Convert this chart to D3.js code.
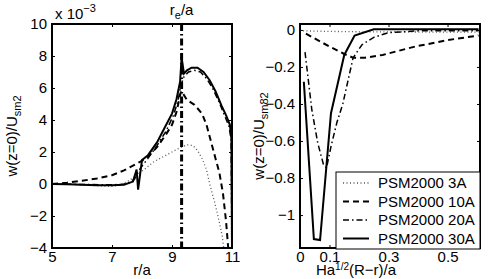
<!DOCTYPE html>
<meta charset="utf-8">
<style>
body { margin: 0; background: #fff; }
svg { font-family: "Liberation Sans", Arial, sans-serif; }
.axis path { display: none; }
.axis line { stroke: #000; stroke-width: 1; }
.axis text { font-size: 15px; fill: #000; }
path.curve { fill: none; stroke: #000; }
</style>
<div id="chart"></div>
<script src="https://d3js.org/d3.v7.min.js"></script>
<script>

// ---- left panel data: r/a vs w(z=0)/U_sm2, values in units of 10^-3
var dot3L = [[5,0],[5.5,0],[6,-0.05],[6.5,-0.1],[7,-0.15],[7.3,-0.05],[7.6,0.25],[7.9,0.65],[8.4,1.4],[8.9,1.9],
  [9.2,2.2],[9.5,2.45],[9.7,2.4],[9.85,2.1],[10.0,1.6],[10.15,0.9],[10.27,-0.1],[10.43,-1.2],[10.58,-2.4],
  [10.68,-3.3],[10.73,-4.1],[10.76,-4.6]];
var dash10L = [[5,0],[5.5,0.08],[6,0.2],[6.5,0.35],[7,0.55],[7.4,0.85],[7.7,1.15],[7.95,1.4],[8.2,1.7],[8.5,2.3],
  [8.8,3.1],[9.0,3.7],[9.15,4.5],[9.3,5.8],[9.35,5.7],[9.5,5.25],[9.75,4.95],[10.0,4.4],[10.15,3.7],[10.3,2.65],
  [10.45,1.6],[10.58,0.7],[10.7,-0.6],[10.8,-2.3],[10.87,-3.9],[10.9,-4.6]];
var dashdot20L = [[5,0],[6,-0.03],[7,-0.05],[7.5,0.0],[7.75,0.3],[7.95,1.0],[8.2,1.6],[8.5,2.4],[8.8,3.3],[9.05,4.3],
  [9.2,5.2],[9.3,6.2],[9.4,6.7],[9.55,7.0],[9.75,7.1],[9.95,7.0],[10.15,6.6],[10.35,6.0],[10.55,5.2],[10.75,4.3],
  [10.9,3.6],[10.97,2.8],[11.0,-4]];
var solid30L = [[5,0],[5.5,-0.02],[6,-0.05],[6.5,-0.08],[7,-0.08],[7.4,-0.05],[7.7,0.15],[7.82,0.9],[7.87,-0.35],
  [8.0,1.5],[8.2,1.8],[8.5,2.6],[8.75,3.5],[9.0,4.4],[9.15,5.3],[9.27,6.4],[9.32,7.9],[9.4,6.9],[9.5,7.1],
  [9.65,7.27],[9.85,7.27],[10.05,7.0],[10.25,6.5],[10.45,5.8],[10.65,4.9],[10.8,4.3],[10.93,3.7],[10.98,2.8],[11.0,-4]];
var rE = 9.32;
var leftXTicks = [5, 7, 9, 11];
var leftYTicks = [-4, -2, 0, 2, 4, 6, 8, 10];

// ---- right panel data: Ha^(1/2)(R-r)/a vs w(z=0)/U_sm82
var dot3R = [[0.01,-0.005],[0.1,-0.008],[0.2,-0.01],[0.3,-0.01],[0.45,-0.012],[0.605,-0.012]];
var dash10R = [[0.02,-0.02],[0.06,-0.055],[0.1,-0.09],[0.15,-0.13],[0.18,-0.15],[0.22,-0.15],[0.28,-0.135],
  [0.39,-0.09],[0.5,-0.055],[0.605,-0.03]];
var dashdot20R = [[0.017,-0.12],[0.04,-0.43],[0.06,-0.61],[0.08,-0.73],[0.09,-0.745],[0.105,-0.63],[0.125,-0.5],
  [0.145,-0.4],[0.18,-0.15],[0.21,-0.08],[0.25,-0.04],[0.3,-0.015],[0.4,-0.005],[0.605,-0.005]];
var solid30R = [[0.013,-0.28],[0.047,-1.13],[0.068,-1.135],[0.105,-0.45],[0.15,-0.135],[0.185,-0.03],
  [0.25,0.003],[0.605,0.003]];
var rightXTicks = [0, 0.1, 0.3, 0.5];
var rightYTicks = [-1, -0.8, -0.6, -0.4, -0.2, 0];

var legendLabels = ["PSM2000 3A", "PSM2000 10A", "PSM2000 20A", "PSM2000 30A"];

// line styles, in the order of the legend
var styles = [
  { dash: "1,2.5", width: 1.3, color: "#555" },
  { dash: "6,4", width: 2, color: "#000" },
  { dash: "6,3,1.5,3", width: 1.5, color: "#000" },
  { dash: null, width: 2, color: "#000" }
];

var width = 493, height = 279;
var svg = d3.select("#chart").append("svg")
  .attr("width", width)
  .attr("height", height);

var fmt = function(d) { return String(d).replace("-", "\u2212"); };

function panel(id, box, xDom, yDom, xTicks, yTicks, series) {
  var x = d3.scaleLinear().domain(xDom).range([box.x0, box.x1]);
  var y = d3.scaleLinear().domain(yDom).range([box.y1, box.y0]);
  var g = svg.append("g");

  g.append("clipPath").attr("id", id)
    .append("rect")
    .attr("x", box.x0).attr("y", box.y0)
    .attr("width", box.x1 - box.x0).attr("height", box.y1 - box.y0);

  // ticks point inward on all four sides, labels only left and bottom
  g.append("g").attr("class", "axis")
    .attr("transform", "translate(" + box.x0 + ",0)")
    .call(d3.axisLeft(y).tickValues(yTicks).tickSizeInner(-3).tickSizeOuter(0).tickPadding(5).tickFormat(fmt));
  g.append("g").attr("class", "axis")
    .attr("transform", "translate(" + box.x1 + ",0)")
    .call(d3.axisRight(y).tickValues(yTicks).tickSizeInner(-3).tickSizeOuter(0).tickFormat(""));
  g.append("g").attr("class", "axis")
    .attr("transform", "translate(0," + box.y1 + ")")
    .call(d3.axisBottom(x).tickValues(xTicks).tickSizeInner(-3).tickSizeOuter(0).tickPadding(3).tickFormat(fmt));
  g.append("g").attr("class", "axis")
    .attr("transform", "translate(0," + box.y0 + ")")
    .call(d3.axisTop(x).tickValues(xTicks).tickSizeInner(-3).tickSizeOuter(0).tickFormat(""));

  var line = d3.line()
    .x(function(d) { return x(d[0]); })
    .y(function(d) { return y(d[1]); });

  g.selectAll("path.curve")
    .data(series)
    .enter().append("path")
    .attr("class", "curve")
    .attr("clip-path", "url(#" + id + ")")
    .attr("d", line)
    .style("stroke", function(d, i) { return styles[i].color; })
    .style("stroke-width", function(d, i) { return styles[i].width; })
    .style("stroke-dasharray", function(d, i) { return styles[i].dash; });

  g.append("rect")
    .attr("x", box.x0).attr("y", box.y0)
    .attr("width", box.x1 - box.x0).attr("height", box.y1 - box.y0)
    .attr("fill", "none")
    .attr("stroke", "#000")
    .attr("stroke-width", 2);

  return { g: g, x: x, y: y };
}

// ---- left panel
var L = panel("clipL", { x0: 52, x1: 232, y0: 24, y1: 248 }, [5, 11], [-4, 10],
  leftXTicks, leftYTicks, [dot3L, dash10L, dashdot20L, solid30L]);

L.g.append("line")
  .attr("x1", L.x(rE)).attr("x2", L.x(rE))
  .attr("y1", L.y(10)).attr("y2", L.y(-4))
  .attr("stroke", "#000")
  .attr("stroke-width", 3)
  .attr("stroke-dasharray", "7,3,1.5,3");

var reLab = L.g.append("text")
  .attr("x", L.x(rE))
  .attr("y", 15)
  .attr("text-anchor", "middle")
  .style("font-size", "15px");
reLab.append("tspan").text("r");
reLab.append("tspan").attr("dy", 4).style("font-size", "11px").text("e");
reLab.append("tspan").attr("dy", -4).text("/a");

var expLab = L.g.append("text")
  .attr("x", 55)
  .attr("y", 19)
  .style("font-size", "15px");
expLab.append("tspan").text("x 10");
expLab.append("tspan").attr("dy", -7).style("font-size", "11px").text("\u22123");

L.g.append("text")
  .attr("x", 142).attr("y", 275)
  .attr("text-anchor", "middle")
  .style("font-size", "15px")
  .text("r/a");

var yLabL = L.g.append("text")
  .attr("transform", "translate(17,136) rotate(-90)")
  .attr("text-anchor", "middle")
  .style("font-size", "15px");
yLabL.append("tspan").text("w(z=0)/U");
yLabL.append("tspan").attr("dy", 4).style("font-size", "11px").text("sm2");

// ---- right panel
var R = panel("clipR", { x0: 300, x1: 480, y0: 24, y1: 248 }, [0, 0.61], [-1.178, 0.032],
  rightXTicks, rightYTicks, [dot3R, dash10R, dashdot20R, solid30R]);

var xLabR = R.g.append("text")
  .attr("x", 356).attr("y", 275)
  .attr("text-anchor", "middle")
  .style("font-size", "15px");
xLabR.append("tspan").text("Ha");
xLabR.append("tspan").attr("dy", -5).style("font-size", "10px").text("1/2");
xLabR.append("tspan").attr("dy", 5).text("(R\u2212r)/a");

var yLabR = R.g.append("text")
  .attr("transform", "translate(264,136) rotate(-90)")
  .attr("text-anchor", "middle")
  .style("font-size", "15px");
yLabR.append("tspan").text("w(z=0)/U");
yLabR.append("tspan").attr("dy", 4).style("font-size", "11px").text("sm82");

// legend
var legend = R.g.append("g")
  .attr("transform", "translate(336,172)");
legend.append("rect")
  .attr("width", 144).attr("height", 77)
  .attr("fill", "#fff")
  .attr("stroke", "#000")
  .attr("stroke-width", 1);
var item = legend.selectAll("g.item")
  .data(legendLabels)
  .enter().append("g")
  .attr("class", "item")
  .attr("transform", function(d, i) { return "translate(0," + (11 + i * 18.5) + ")"; });
item.append("line")
  .attr("x1", 7).attr("x2", 33)
  .style("stroke", function(d, i) { return styles[i].color; })
  .style("stroke-width", function(d, i) { return styles[i].width; })
  .style("stroke-dasharray", function(d, i) { return styles[i].dash; });
item.append("text")
  .attr("x", 42)
  .attr("dy", "0.35em")
  .style("font-size", "15px")
  .text(function(d) { return d; });

</script>
